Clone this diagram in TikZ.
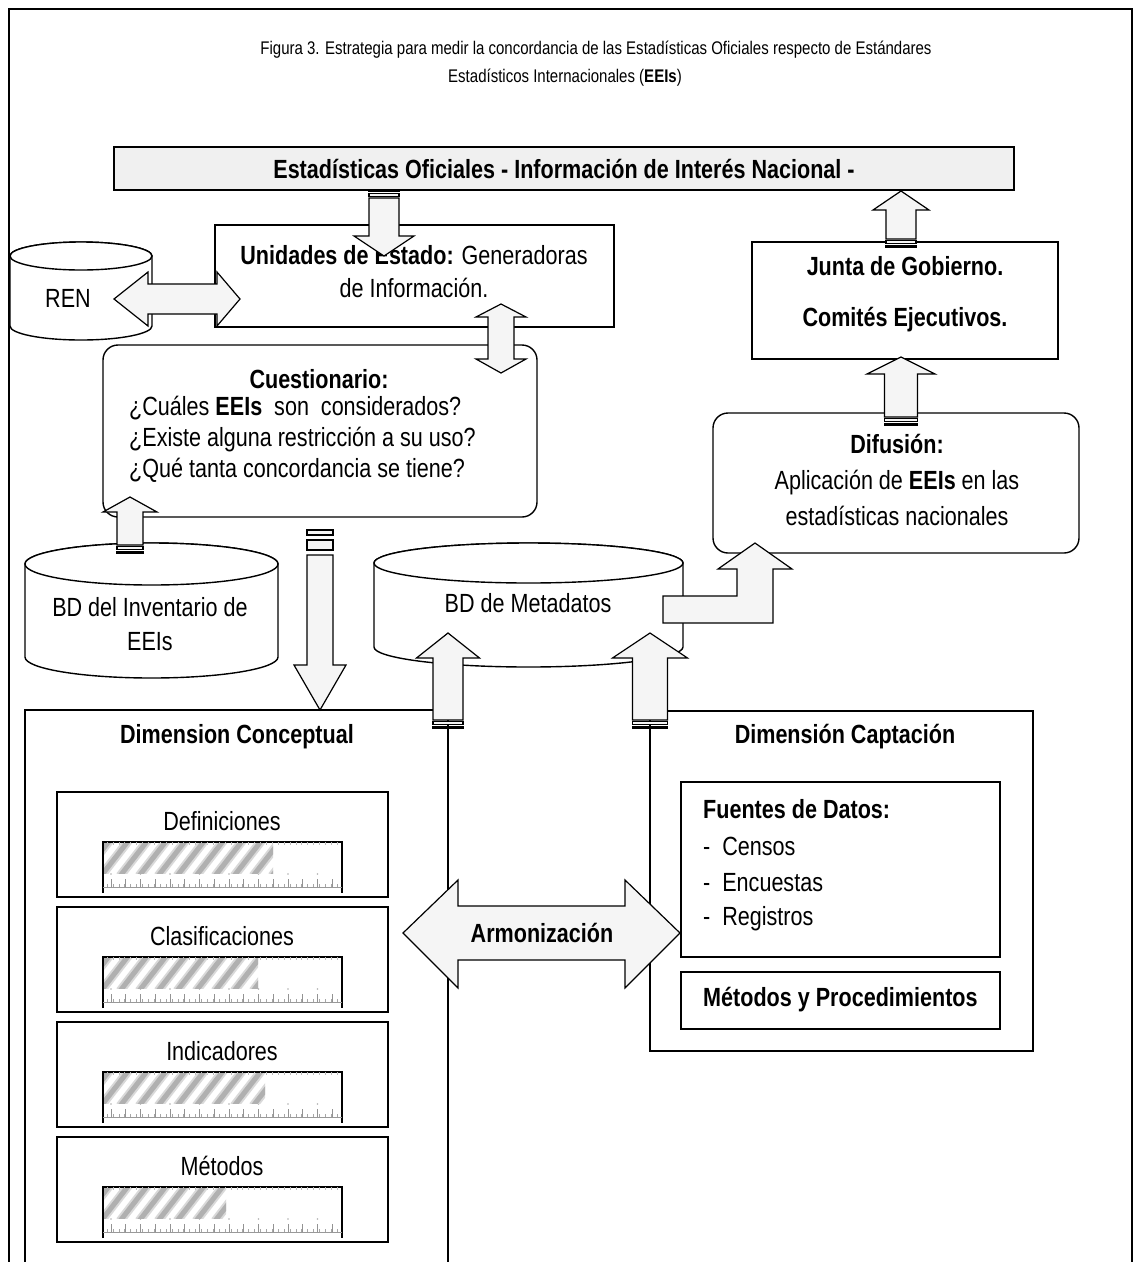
\documentclass[tikz,border=0pt]{standalone}
\usepackage{fontspec}
\setmainfont[FakeStretch=0.82]{Liberation Sans}
\usetikzlibrary{fit}
% vertical block arrow: cx, ytail, ytip, body half, head half, head length, stripe unit
\newcommand\varrow[7]{%
  \pgfmathsetmacro\arD{ifthenelse(#3>#2,1,-1)}%
  \pgfmathsetmacro\arA{#2+5*#7*\arD}%
  \pgfmathsetmacro\arH{#3-#6*\arD}%
  \pgfmathsetmacro\arS{#2+#7*\arD}%
  \pgfmathsetmacro\arT{#2+2*#7*\arD}%
  \pgfmathsetmacro\arU{#2+4*#7*\arD}%
  \pgfmathsetmacro\arL{#1-#4}\pgfmathsetmacro\arR{#1+#4}%
  \pgfmathsetmacro\arLL{#1-#5}\pgfmathsetmacro\arRR{#1+#5}%
  \draw[barrow] (\arL,\arA) -- (\arL,\arH) -- (\arLL,\arH) -- (#1,#3) -- (\arRR,\arH) -- (\arR,\arH) -- (\arR,\arA) -- cycle;
  \draw[barrow] (\arL,#2) rectangle (\arR,\arS);
  \draw[barrow] (\arL,\arT) rectangle (\arR,\arU);
}
% cylinder: x1, x2, ytop, ybottom, ry
\newcommand\cyl[5]{%
  \pgfmathsetmacro\cyRx{(#2-#1)/2}\pgfmathsetmacro\cyCx{(#1+#2)/2}%
  \pgfmathsetmacro\cyA{#3+#5}\pgfmathsetmacro\cyB{#4-#5}%
  \filldraw[cylst] (#1,\cyA) -- (#1,\cyB) arc[start angle=180,end angle=360,x radius=\cyRx pt,y radius=#5 pt] -- (#2,\cyA) arc[start angle=0,end angle=180,x radius=\cyRx pt,y radius=#5 pt] -- cycle;
  \draw[cylst] (\cyCx,\cyA) ellipse[x radius=\cyRx pt,y radius=#5 pt];
}
% gauge bar: x1, ytop, x2, ybot, xfill
\newcommand\gauge[5]{%
  \draw[line width=1.6pt] (#1,#4+6) -- (#1,#2) -- (#3,#2) -- (#3,#4+6);
  \draw[gray!80,line width=0.8pt] (#1,#4) -- (#3,#4);
  \foreach \k in {0,...,39} {\draw[gray!70,line width=0.6pt] (#1+4+\k*5.9,#4) -- ++(0,-3);}
  \foreach \k in {0,...,15} {\draw[gray!85,line width=0.7pt] (#1+8+\k*14.75,#4) -- ++(0,-8);}
  \foreach \k in {0,...,7} {\fill[gray!60] (#1+8+\k*29.5,#4-13) circle[radius=0.8pt];}
  \foreach \k in {0,...,39} {\draw[gray!55,line width=0.5pt] (#1+4+\k*5.9,#2) -- ++(0,3);}
  \begin{scope}
    \clip (#1+1,#2+1) rectangle (#5,#2+31);
    \foreach \k in {-40,-21,...,280} {\draw[line width=9pt,gray!30] (#1+\k,#2+34) -- ++(28,-36);
      \draw[line width=5pt,gray!62] (#1+\k,#2+34) -- ++(28,-36);}
  \end{scope}
}
\begin{document}
\begin{tikzpicture}[x=1pt,y=-1pt,
  box/.style={draw,line width=1.4pt,fill=white,inner sep=0},
  rbox/.style={box,rounded corners=15pt},
  cylst/.style={draw,line width=1.4pt,fill=white},
  barrow/.style={draw,line width=1.2pt,fill=gray!8,line join=miter},
  txt/.style={inner sep=0,font=\fontsize{26.3}{31}\selectfont},
  txtb/.style={inner sep=0,font=\fontsize{26.3}{31}\selectfont\bfseries}]
\useasboundingbox (0,0) rectangle (1135,1262);
\clip (0,0) rectangle (1135,1262);
\fill[white] (0,0) rectangle (1135,1262);
% frame
\draw[line width=1.4pt] (9,1280) -- (9,9) -- (1132,9) -- (1132,1280);
% title
\node[inner sep=0,font=\fontsize{18.3}{27}\selectfont] (tit1) at (596,50) {Figura 3. Estrategia para medir la concordancia de las Estadísticas Oficiales respecto de Estándares};
\node[inner sep=0,font=\fontsize{18.3}{27}\selectfont] (tit2) at (565,78) {Estadísticos Internacionales (\textbf{EEIs})};
% top bar
\node[box,fill=gray!12,fit={(114,147) (1014,190)}] (bar) {};
\node[txtb] (barT) at (bar.center) {Estadísticas Oficiales - Información de Interés Nacional -};
% REN
\cyl{10}{152}{242}{340}{14}
\node[txt] (ren) at (68,298) {REN};
% Unidades
\node[box,fit={(215,225) (614,327)}] (unid) {};
\node[txt,align=center,font=\fontsize{26.3}{33}\selectfont] (unidT) at (414,272) {\textbf{Unidades de Estado:} Generadoras\\de Información.};
% Cuestionario
\node[rbox,fit={(103,345) (537,517)}] (cues) {};
\node[txtb] (cuesT) at (319,379) {Cuestionario:};
\node[txt,align=left,anchor=west] (cuesL) at (129,439) {¿Cuáles \textbf{EEIs}\ \ son\ \ considerados?\\¿Existe alguna restricción a su uso?\\¿Qué tanta concordancia se tiene?};
% Junta
\node[box,fit={(752,242) (1058,359)}] (junta) {};
\node[txtb,align=center,font=\fontsize{26.3}{51}\selectfont\bfseries] (juntaT) at (905,294) {Junta de Gobierno.\\Comités Ejecutivos.};
% Difusion
\node[rbox,fit={(713,413) (1079,553)}] (dif) {};
\node[txt,align=center,font=\fontsize{26.3}{36}\selectfont] (difT) at (897,480) {\textbf{Difusión:}\\Aplicación de \textbf{EEIs} en las\\estadísticas nacionales};
% BD Inventario
\cyl{25}{278}{543}{678}{21}
\node[txt,align=center,font=\fontsize{26.3}{34}\selectfont] (inv) at (150,624) {BD del Inventario de\\EEIs};
% BD Metadatos
\cyl{374}{683}{543}{667}{20}
\node[txt] (meta) at (528,603) {BD de Metadatos};
% Dimension Conceptual
\draw[line width=1.4pt] (25,1280) -- (25,710) -- (448,710) -- (448,1280);
\coordinate (dimc) at (237,710);
\node[txtb] (dimcT) at (237,737) {Dimension Conceptual};
\foreach \nm/\lab/\yt/\xf in {def/Definiciones/792/273, cla/Clasificaciones/907/258, ind/Indicadores/1022/265, met/Métodos/1137/226}{
  \node[box,fit={(57,\yt) (388,\yt+105)}] (\nm) {};
  \node[txt] (\nm T) at (222,\yt+29) {\lab};
  \gauge{103}{\yt+50}{342}{\yt+95}{\xf}
}
% Dimension Captacion
\node[box,fit={(650,711) (1033,1051)}] (dimk) {};
\node[txtb] (dimkT) at (845,737) {Dimensión Captación};
\node[box,fit={(681,782) (1000,957)}] (fue) {};
\node[txtb,anchor=west] (fueT) at (703,809) {Fuentes de Datos:};
\node[txt,anchor=west] (fue1) at (703,846) {-\ \ Censos};
\node[txt,anchor=west] (fue2) at (703,883) {-\ \ Encuestas};
\node[txt,anchor=west] (fue3) at (703,919) {-\ \ Registros};
\node[box,fit={(681,972) (1000,1029)}] (mp) {};
\node[txtb,anchor=west] (mpT) at (703,1000) {Métodos y Procedimientos};
% block arrows
\draw[barrow] (114,299) -- (148,272) -- (148,284) -- (217,284) -- (217,272) -- (240,299) -- (217,326) -- (217,314) -- (148,314) -- (148,326) -- cycle;
\draw[barrow] (501,304) -- (526,317) -- (514,317) -- (514,359) -- (526,359) -- (501,373) -- (476,359) -- (488,359) -- (488,317) -- (476,317) -- cycle;
\varrow{384}{190}{256}{15}{30}{20}{1.6}
\varrow{901}{247}{191}{15}{28}{19}{1.6}
\varrow{901}{425}{357}{16.5}{34}{17}{1.6}
\varrow{130}{553}{497}{13}{27}{15}{1.6}
\varrow{320}{530}{710}{13}{26}{45}{5}
\varrow{448}{728}{633}{15}{31.5}{25}{1.6}
\varrow{650}{728}{633}{17.5}{37.5}{25}{1.6}
\draw[barrow] (663,596) -- (737,596) -- (737,569) -- (718,569) -- (755,543) -- (792,569) -- (773,569) -- (773,623) -- (663,623) -- cycle;
\draw[barrow] (403,933) -- (458,880) -- (458,906) -- (625,906) -- (625,880) -- (680,933) -- (625,988) -- (625,960) -- (458,960) -- (458,988) -- cycle;
\node[txtb] (arm) at (542,933) {Armonización};
\end{tikzpicture}
\end{document}
